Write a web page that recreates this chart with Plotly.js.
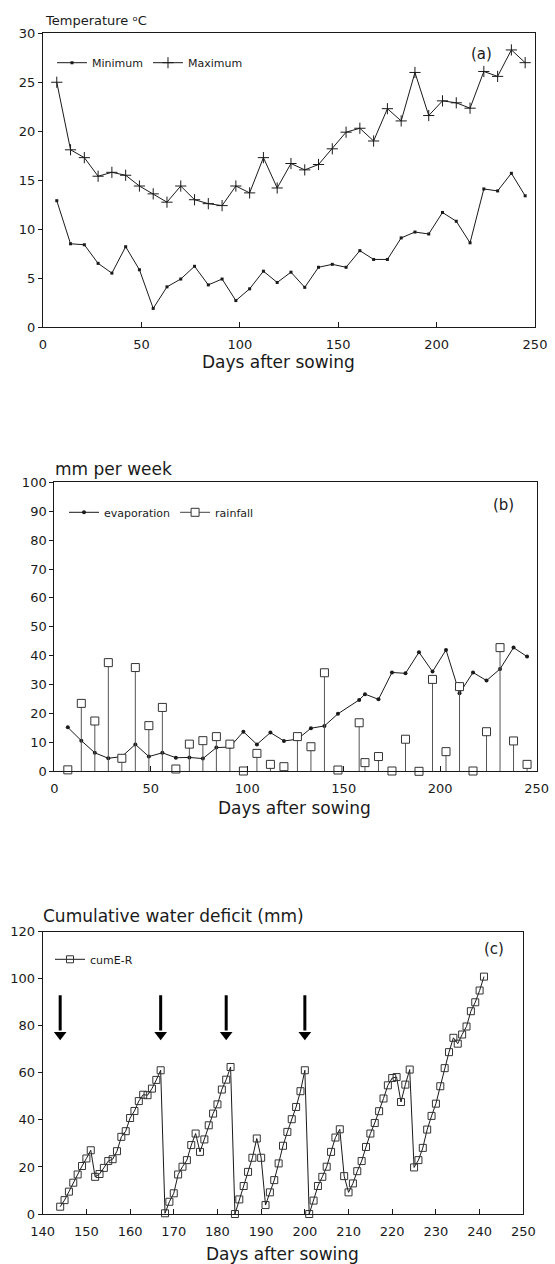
<!DOCTYPE html>
<html><head><meta charset="utf-8">
<script src="https://cdn.plot.ly/plotly-3.0.1.min.js"></script>
<style>html,body{margin:0;padding:0;background:#fff}#chart{width:555px;height:1264px}</style>
</head><body><div id="chart"></div>
<script>
// ---- Panel (a): weekly temperatures ----
const weekDays = [7,14,21,28,35,42,49,56,63,70,77,84,91,98,105,112,119,126,133,140,147,154,161,168,175,182,189,196,203,210,217,224,231,238,245];
const tempMin = [12.9,8.5,8.4,6.5,5.5,8.2,5.85,1.9,4.1,4.9,6.2,4.3,4.9,2.7,3.9,5.7,4.55,5.6,4.05,6.1,6.4,6.1,7.8,6.9,6.9,9.1,9.7,9.5,11.7,10.8,8.6,14.1,13.9,15.7,13.4];
const tempMax = [25.0,18.1,17.3,15.4,15.8,15.5,14.4,13.6,12.75,14.4,13.0,12.6,12.4,14.4,13.7,17.3,14.2,16.7,16.05,16.6,18.2,19.9,20.3,19.0,22.3,21.05,26.0,21.6,23.1,22.9,22.35,26.1,25.6,28.3,27.0];

// ---- Panel (b): mm per week ----
const wbDays = [7,14,21,28,35,42,49,56,63,70,77,84,91,98,105,112,119,126,133,140,147,158,161,168,175,182,189,196,203,210,217,224,231,238,245];
const evaporation = [15.2,10.6,6.4,4.5,5.1,9.3,5.1,6.4,4.7,4.8,4.4,8.2,8.4,13.7,9.3,13.4,10.5,11.1,14.9,15.7,19.9,24.7,26.7,24.9,34.2,33.9,41.2,34.5,42.0,27.0,34.2,31.4,35.4,42.8,39.7];
const rainfall = [0.5,23.5,17.4,37.6,4.5,35.9,15.8,22.1,0.8,9.4,10.6,12.0,9.4,0.1,6.2,2.4,1.6,12.0,8.5,34.1,0.45,16.8,3.0,5.1,0.1,11.1,0,31.8,6.8,29.3,0.1,13.7,42.8,10.5,2.4];

// ---- Panel (c): cumulative water deficit ----
const cumDays = [];
for (let d = 144; d <= 241; d++) cumDays.push(d);
const cumER = [3.1,5.9,9.5,13.3,16.8,20.4,23.6,27.1,15.8,17.0,19.6,22.5,23.3,26.7,32.8,35.2,40.8,43.8,48.0,50.7,50.5,53.3,57.0,61.1,
  0.3,5.2,8.8,16.8,20.1,22.9,29.3,34.2,26.4,31.7,37.7,42.7,46.6,52.9,57.1,62.5,
  0,6.2,11.9,17.9,23.9,32.1,23.9,3.8,9.2,14.4,21.5,29.0,34.9,40.3,45.5,52.2,61.1,
  0,5.7,11.9,15.8,20.1,26.4,32.5,36.0,16.1,9.2,13.0,18.2,22.5,28.5,34.2,38.7,43.7,49.1,54.7,57.8,58.2,47.6,55.0,61.4,
  19.8,22.9,28.1,35.9,41.7,46.9,54.3,62.0,68.8,74.9,72.4,76.3,79.7,86.2,90.0,95.0,100.9];
// irrigation arrows: shaft from arrowTop down to the arrow head, tip at arrowTip
const irrigationDays = [144,167,182,200];
const arrowTop = 93;
const arrowTip = 74;

const INK = '#1a1a1a';
const FONT = 'DejaVu Sans, Arial, sans-serif';

// rainfall as isolated points (gaps between) so legend shows line+box, stems via error bars
const rainX = [], rainY = [], rainMinus = [], rainPlus = [];
wbDays.forEach((d, i) => { rainX.push(d, null); rainY.push(rainfall[i], null); rainMinus.push(rainfall[i], null); rainPlus.push(0, null); });

// arrow shafts and heads
const shaftX = [], shaftY = [];
irrigationDays.forEach(d => { shaftX.push(d, d, null); shaftY.push(arrowTop, arrowTip + 4, null); });
const headY = irrigationDays.map(() => arrowTip + 2.2);

const traces = [
  {x: weekDays, y: tempMin, xaxis:'x', yaxis:'y', name:'Minimum', legend:'legend', mode:'lines+markers', cliponaxis:false,
   line:{color:INK, width:1}, marker:{symbol:'square', size:3, color:INK}},
  {x: weekDays, y: tempMax, xaxis:'x', yaxis:'y', name:'Maximum', legend:'legend', mode:'lines+markers', cliponaxis:false,
   line:{color:INK, width:1}, marker:{symbol:'cross-thin', size:8, color:INK, line:{color:INK, width:1}}},
  {x: wbDays, y: evaporation, xaxis:'x2', yaxis:'y2', name:'evaporation', legend:'legend2', mode:'lines+markers', cliponaxis:false,
   line:{color:INK, width:1}, marker:{symbol:'circle', size:4, color:INK}},
  {x: rainX, y: rainY, xaxis:'x2', yaxis:'y2', name:'rainfall', legend:'legend2', mode:'lines+markers', connectgaps:false, cliponaxis:false,
   line:{color:'#444', width:1}, marker:{symbol:'square', size:8, color:'#fff', line:{color:'#333', width:1}},
   error_y:{type:'data', symmetric:false, array:rainPlus, arrayminus:rainMinus, width:0, thickness:1, color:'#555'}},
  {x: cumDays, y: cumER, xaxis:'x3', yaxis:'y3', name:'cumE-R', legend:'legend3', mode:'lines+markers', cliponaxis:false,
   line:{color:INK, width:1}, marker:{symbol:'square-open', size:7, color:'#333', line:{width:1}}},
  {x: shaftX, y: shaftY, xaxis:'x3', yaxis:'y3', mode:'lines', showlegend:false, hoverinfo:'skip',
   line:{color:'#000', width:3}},
  {x: irrigationDays, y: headY, xaxis:'x3', yaxis:'y3', mode:'markers', showlegend:false, hoverinfo:'skip',
   marker:{symbol:'triangle-down', size:11, color:'#000'}}
];

const axBase = {showline:true, mirror:true, linecolor:INK, linewidth:1, showgrid:false, zeroline:false,
  tickfont:{family:FONT, size:13, color:INK}, tickcolor:INK};
const xBase = Object.assign({}, axBase, {ticks:'inside', ticklen:5, ticklabelstandoff:5});
const yBase = Object.assign({}, axBase, {ticks:'outside', ticklen:4});

const H = 1264, W = 555;
const py = v => 1 - v / H, px = v => v / W;

const legBase = {orientation:'h', xanchor:'left', yanchor:'middle', bgcolor:'rgba(0,0,0,0)', borderwidth:0,
  font:{family:FONT, size:11, color:INK}};

const annotations = [
  {text:'Temperature \u1D52C', xref:'paper', yref:'paper', x:px(43), y:py(21), xanchor:'left', yanchor:'middle', showarrow:false, font:{family:FONT, size:13, color:INK}},
  {text:'Days after sowing', xref:'paper', yref:'paper', x:px(278), y:py(362), xanchor:'center', yanchor:'middle', showarrow:false, font:{family:FONT, size:17, color:INK}},
  {text:'(a)', xref:'x domain', yref:'y domain', x:0.891, y:0.931, xanchor:'center', yanchor:'middle', showarrow:false, font:{family:FONT, size:15, color:INK}},
  {text:'mm per week', xref:'paper', yref:'paper', x:px(53), y:py(469), xanchor:'left', yanchor:'middle', showarrow:false, font:{family:FONT, size:17, color:INK}},
  {text:'Days after sowing', xref:'paper', yref:'paper', x:px(294), y:py(808), xanchor:'center', yanchor:'middle', showarrow:false, font:{family:FONT, size:17, color:INK}},
  {text:'(b)', xref:'x2 domain', yref:'y2 domain', x:0.932, y:0.920, xanchor:'center', yanchor:'middle', showarrow:false, font:{family:FONT, size:15, color:INK}},
  {text:'Cumulative water deficit (mm)', xref:'paper', yref:'paper', x:px(41), y:py(916), xanchor:'left', yanchor:'middle', showarrow:false, font:{family:FONT, size:17, color:INK}},
  {text:'Days after sowing', xref:'paper', yref:'paper', x:px(282), y:py(1254), xanchor:'center', yanchor:'middle', showarrow:false, font:{family:FONT, size:17, color:INK}},
  {text:'(c)', xref:'x3 domain', yref:'y3 domain', x:0.938, y:0.939, xanchor:'center', yanchor:'middle', showarrow:false, font:{family:FONT, size:15, color:INK}}
];

const layout = {
  width:W, height:H, margin:{l:0, r:0, t:0, b:0}, paper_bgcolor:'#fff', plot_bgcolor:'rgba(0,0,0,0)',
  font:{family:FONT, size:13, color:INK}, showlegend:true,
  xaxis:  Object.assign({}, xBase, {domain:[px(43), px(535)], anchor:'y', range:[0,250], tick0:0, dtick:50}),
  yaxis:  Object.assign({}, yBase, {domain:[py(327), py(33.3)], anchor:'x', range:[0,30], tick0:0, dtick:5}),
  xaxis2: Object.assign({}, xBase, {domain:[px(54.3), px(536.7)], anchor:'y2', range:[0,250], tick0:0, dtick:50}),
  yaxis2: Object.assign({}, yBase, {domain:[py(771.3), py(482.3)], anchor:'x2', range:[0,100], tick0:0, dtick:10}),
  xaxis3: Object.assign({}, xBase, {domain:[px(42.7), px(523.3)], anchor:'y3', range:[140,250], tick0:140, dtick:10}),
  yaxis3: Object.assign({}, yBase, {domain:[py(1214), py(931.7)], anchor:'x3', range:[0,120], tick0:0, dtick:20}),
  legend:  Object.assign({}, legBase, {x:px(52), y:py(62.7)}),
  legend2: Object.assign({}, legBase, {x:px(64), y:py(512.3)}),
  legend3: Object.assign({}, legBase, {x:px(50), y:py(959.3)}),
  annotations: annotations
};

Plotly.newPlot('chart', traces, layout, {displayModeBar:false, staticPlot:true});
</script>
</body></html>
